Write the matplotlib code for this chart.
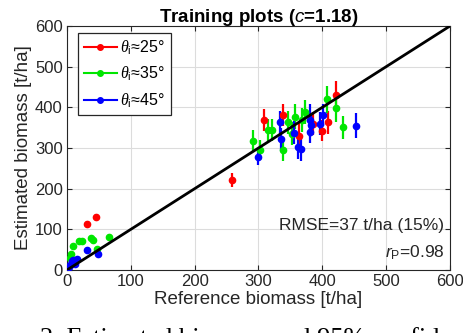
import matplotlib
matplotlib.use("Agg")
import matplotlib.pyplot as plt
from matplotlib.lines import Line2D

############## DATA ###############
## theta_i ~ 25 deg (red)
x25 = [32, 45, 258, 308, 339, 363, 386, 399, 409, 422]
y25 = [114, 130, 221, 369, 381, 330, 360, 343, 363, 431]
e25 = [7, 8, 18, 28, 28, 32, 28, 27, 28, 33]

## theta_i ~ 35 deg (green)
x35 = [5, 7, 9, 19, 24, 37, 41, 47, 66,
       292, 303, 315, 321, 339, 347, 352, 357, 368, 373, 407, 422, 433]
y35 = [30, 40, 58, 72, 71, 78, 74, 52, 82,
       318, 295, 344, 344, 295, 363, 335, 377, 369, 389, 420, 398, 351]
e35 = [5, 5, 5, 5, 5, 5, 5, 5, 5,
       27, 25, 27, 27, 27, 28, 28, 30, 30, 30, 33, 33, 28]

## theta_i ~ 45 deg (blue)
x45 = [3, 5, 8, 10, 13, 16, 32, 49,
       300, 334, 336, 355, 362, 367, 380, 381, 382, 397, 401, 453]
y45 = [8, 12, 22, 25, 14, 27, 49, 40,
       279, 363, 321, 338, 302, 297, 368, 340, 357, 360, 381, 355]
e45 = [4, 4, 4, 4, 4, 4, 5, 5,
       20, 28, 28, 28, 30, 30, 40, 28, 28, 28, 28, 30]

labels = [r"$\theta_\mathrm{i}$≈25°", r"$\theta_\mathrm{i}$≈35°", r"$\theta_\mathrm{i}$≈45°"]
colors = ["#ff0000", "#00e600", "#0000ff"]

ticks = [0, 100, 200, 300, 400, 500, 600]

############## STYLE ###############
plt.rcParams["font.family"] = ["Liberation Sans", "DejaVu Sans"]
plt.rcParams["mathtext.fontset"] = "custom"
plt.rcParams["mathtext.rm"] = "Liberation Sans"
plt.rcParams["mathtext.it"] = "Liberation Serif:italic"   # theta looks serif
plt.rcParams["mathtext.sf"] = "Liberation Sans:italic"    # c and r are italic sans
plt.rcParams["mathtext.bf"] = "Liberation Sans:bold"

grey = "#262626"

fig = plt.figure(figsize=(4.63, 3.33), dpi=100)
ax = fig.add_axes([0.1447, 0.1892, 0.8272, 0.7327])

## points with error bars
for xs, ys, es, c in zip([x25, x35, x45], [y25, y35, y45], [e25, e35, e45], colors):
    ax.errorbar(xs, ys, yerr=es, fmt="o", color=c, ms=4.5,
                elinewidth=1.6, capsize=0, zorder=3)

## 1:1 line
ax.plot([0, 600], [0, 600], color="black", lw=2, zorder=4)

ax.set_xlim(0, 600)
ax.set_ylim(0, 600)
ax.set_xticks(ticks)
ax.set_yticks(ticks)
ax.grid(True, color="#dcdcdc", lw=0.8)
ax.set_axisbelow(True)
ax.tick_params(direction="in", length=3.5, top=True, right=True,
               labelsize=12, colors=grey, pad=3)
for s in ax.spines.values():
    s.set_color(grey)
    s.set_linewidth(0.8)

ax.set_xlabel("Reference biomass [t/ha]", fontsize=13.5, color=grey, labelpad=1)
ax.set_ylabel("Estimated biomass [t/ha]", fontsize=13.5, color=grey, labelpad=2)
ax.set_title(r"Training plots ($\mathsf{c}$=1.18)", fontsize=13.5, fontweight="bold", pad=3)

## stats text
ax.text(591, 98, "RMSE=37 t/ha (15%)", ha="right", va="baseline", fontsize=12.5, color=grey)
ax.text(591, 30, r"$\mathsf{r}_\mathrm{P}$=0.98", ha="right", va="baseline", fontsize=12.5, color=grey)

## legend
handles = [Line2D([0], [0], color=c, marker="o", ms=4, lw=1.5) for c in colors]
leg = ax.legend(handles, labels, loc="upper left", bbox_to_anchor=(0.029, 0.971),
                fontsize=11.5, fancybox=False, framealpha=1, edgecolor=grey,
                handlelength=2.1, handletextpad=0.2, labelspacing=0.5,
                borderpad=0.35, borderaxespad=0)
leg.get_frame().set_linewidth(0.9)

## caption of the paper figure, cut off at the bottom
fig.text(40 / 463, 0.015, "2. Estimated biomass and 95% confidence intervals",
         ha="left", va="top", fontsize=19, family="Liberation Serif")

plt.savefig("out.png", dpi=100)
